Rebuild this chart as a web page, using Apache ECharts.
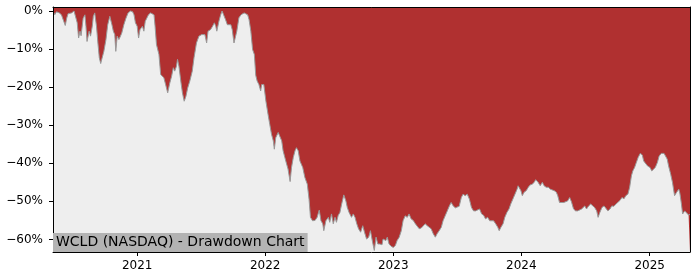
<!DOCTYPE html>
<html>
<head>
<meta charset="utf-8">
<script src="https://cdn.jsdelivr.net/npm/echarts@6/dist/echarts.min.js"></script>
<style>html,body{margin:0;padding:0;background:#fff}#c{width:700px;height:280px}</style>
</head>
<body>
<div id="c"></div>
<script>
const chartTitle = 'WCLD (NASDAQ) - Drawdown Chart';
const xStart = '2020-05-06';
const xEnd = '2025-04-26';
const yMin = -63.3;
const yMax = 1.05;
const yTicks = [0, -10, -20, -30, -40, -50, -60];
const xTickYears = [2021, 2022, 2023, 2024, 2025];

const dates2020 = ['2020-05-06','2020-05-11','2020-05-16','2020-05-24','2020-05-30','2020-06-04','2020-06-10','2020-06-14','2020-06-18','2020-06-23','2020-06-28','2020-07-05','2020-07-10','2020-07-14','2020-07-18','2020-07-22','2020-07-25','2020-07-31','2020-08-05','2020-08-08','2020-08-11','2020-08-17','2020-08-21','2020-08-26','2020-08-29','2020-09-02','2020-09-07','2020-09-11','2020-09-15','2020-09-19','2020-09-22','2020-09-28','2020-10-04','2020-10-09','2020-10-15','2020-10-21','2020-10-25','2020-10-29','2020-11-01','2020-11-05','2020-11-10','2020-11-15','2020-11-18','2020-11-24','2020-11-30','2020-12-06','2020-12-13','2020-12-19','2020-12-23','2020-12-27'];
const dd2020 = [0,-1.0,-0.2,-0.5,-1.0,-1.4,-3.8,-1.9,-0.7,-1.0,-0.5,0,-0.2,-3.1,-7.1,-5.3,-6.5,-1.9,-1.0,-4.0,-8.0,-5.3,-6.6,-4.0,-1.4,-0.5,-4.0,-8.4,-12.3,-13.8,-12.7,-10.6,-7.5,-3.6,-1.4,-3.6,-5.3,-6.2,-10.6,-6.6,-7.5,-7.0,-5.8,-3.6,-1.9,-0.5,0,-0.2,-1.0,-3.1];

const dates2021 = ['2021-01-01','2021-01-05','2021-01-09','2021-01-12','2021-01-16','2021-01-20','2021-01-24','2021-01-28','2021-02-02','2021-02-08','2021-02-12','2021-02-18','2021-02-21','2021-02-25','2021-03-04','2021-03-09','2021-03-13','2021-03-18','2021-03-23','2021-03-29','2021-04-04','2021-04-09','2021-04-14','2021-04-18','2021-04-23','2021-04-26','2021-04-30','2021-05-06','2021-05-10','2021-05-15','2021-05-20','2021-05-25','2021-05-31','2021-06-07','2021-06-12','2021-06-19','2021-06-26','2021-07-04','2021-07-09','2021-07-13','2021-07-18','2021-07-22','2021-07-29','2021-08-04','2021-08-09','2021-08-13','2021-08-16','2021-08-22','2021-08-27','2021-08-31','2021-09-05','2021-09-10','2021-09-15','2021-09-19','2021-09-25','2021-09-29','2021-10-04','2021-10-09','2021-10-12','2021-10-18','2021-10-24','2021-10-27','2021-11-02','2021-11-07','2021-11-12','2021-11-16','2021-11-21','2021-11-26','2021-12-01','2021-12-05','2021-12-09','2021-12-14','2021-12-19','2021-12-22','2021-12-28'];
const dd2021 = [-4.0,-7.1,-4.9,-5.3,-4.0,-5.3,-2.7,-3.1,-1.0,-0.5,0,-1.0,-4.0,-8.8,-11.4,-16.7,-16.3,-17.5,-19.3,-21.5,-18.9,-17.2,-14.9,-15.8,-14.5,-12.7,-14.5,-18.9,-21.5,-23.7,-22.4,-20.2,-18.4,-15.8,-12.3,-8.4,-6.6,-6.2,-5.8,-6.2,-8.4,-5.3,-4.9,-4.0,-3.1,-4.0,-5.3,-2.7,-1.0,0,-0.5,-2.3,-3.6,-4.0,-3.6,-4.9,-8.4,-8.0,-5.3,-1.8,-1.0,-1.4,-0.5,-0.3,-1.0,-2.3,-5.3,-10.1,-11.4,-16.9,-18.4,-19.3,-21.0,-19.3,-19.3];

const dates2022 = ['2022-01-03','2022-01-09','2022-01-14','2022-01-19','2022-01-24','2022-01-27','2022-01-31','2022-02-07','2022-02-12','2022-02-17','2022-02-21','2022-02-26','2022-03-03','2022-03-07','2022-03-13','2022-03-17','2022-03-22','2022-03-27','2022-03-31','2022-04-05','2022-04-10','2022-04-18','2022-04-24','2022-05-01','2022-05-06','2022-05-10','2022-05-16','2022-05-23','2022-05-29','2022-06-04','2022-06-09','2022-06-14','2022-06-17','2022-06-23','2022-06-30','2022-07-04','2022-07-09','2022-07-14','2022-07-19','2022-07-23','2022-07-28','2022-08-02','2022-08-07','2022-08-13','2022-08-19','2022-08-23','2022-08-28','2022-09-04','2022-09-09','2022-09-14','2022-09-19','2022-09-24','2022-09-30','2022-10-06','2022-10-11','2022-10-17','2022-10-23','2022-10-28','2022-11-03','2022-11-08','2022-11-13','2022-11-18','2022-11-24','2022-11-30','2022-12-03','2022-12-11','2022-12-15','2022-12-20','2022-12-26'];
const dd2022 = [-23.7,-27.1,-29.8,-32.4,-34.1,-36.3,-33.3,-31.9,-31.5,-34.1,-36.7,-38.5,-40.2,-41.5,-44.8,-41.1,-38.5,-36.7,-35.9,-36.7,-39.4,-41.1,-43.7,-45.5,-49.5,-54.2,-55.1,-55.0,-54.2,-52.3,-55.1,-55.9,-57.7,-55.1,-54.2,-55.5,-53.3,-55.9,-54.2,-55.5,-53.7,-52.9,-50.7,-48.3,-49.9,-51.6,-52.9,-54.2,-53.3,-54.2,-55.9,-57.2,-58.1,-56.4,-58.1,-59.9,-59.4,-57.7,-60.7,-62.9,-59.4,-61.2,-61.2,-61.4,-59.9,-60.3,-59.4,-61.2,-61.8];

const dates2023 = ['2023-01-01','2023-01-07','2023-01-12','2023-01-18','2023-01-24','2023-01-29','2023-02-04','2023-02-10','2023-02-15','2023-02-21','2023-02-27','2023-03-05','2023-03-10','2023-03-16','2023-03-22','2023-03-27','2023-04-02','2023-04-08','2023-04-13','2023-04-19','2023-04-25','2023-05-01','2023-05-06','2023-05-12','2023-05-18','2023-05-23','2023-05-29','2023-06-04','2023-06-10','2023-06-15','2023-06-21','2023-06-27','2023-07-02','2023-07-08','2023-07-14','2023-07-19','2023-07-25','2023-07-31','2023-08-06','2023-08-12','2023-08-18','2023-08-24','2023-08-29','2023-09-04','2023-09-10','2023-09-16','2023-09-21','2023-09-27','2023-10-03','2023-10-08','2023-10-14','2023-10-20','2023-10-26','2023-10-30','2023-11-04','2023-11-10','2023-11-15','2023-11-21','2023-11-27','2023-12-02','2023-12-08','2023-12-14','2023-12-20','2023-12-23','2023-12-27','2023-12-31'];
const dd2023 = [-62.1,-61.6,-60.3,-59.4,-57.7,-55.1,-53.8,-54.2,-53.3,-54.6,-55.0,-55.9,-56.4,-57.2,-57.0,-57.2,-55.9,-56.4,-56.8,-57.2,-58.5,-59.4,-58.5,-57.7,-56.8,-55.1,-53.8,-52.5,-51.2,-50.3,-51.2,-51.7,-51.5,-51.3,-49.0,-48.1,-48.5,-48.1,-49.4,-51.6,-52.5,-52.5,-52.9,-52.0,-53.3,-53.7,-54.6,-54.2,-55.1,-54.6,-55.1,-55.9,-56.8,-57.7,-56.8,-55.9,-54.2,-52.9,-52.0,-50.7,-49.4,-48.1,-46.8,-45.9,-45.8,-47.2];

const dates2024 = ['2024-01-04','2024-01-09','2024-01-15','2024-01-21','2024-01-26','2024-02-01','2024-02-07','2024-02-11','2024-02-15','2024-02-18','2024-02-24','2024-03-01','2024-03-06','2024-03-12','2024-03-18','2024-03-24','2024-03-29','2024-04-04','2024-04-10','2024-04-14','2024-04-19','2024-04-25','2024-05-01','2024-05-06','2024-05-12','2024-05-18','2024-05-23','2024-05-29','2024-06-04','2024-06-10','2024-06-15','2024-06-21','2024-06-30','2024-07-05','2024-07-11','2024-07-17','2024-07-22','2024-07-28','2024-08-03','2024-08-07','2024-08-12','2024-08-18','2024-08-24','2024-08-29','2024-09-04','2024-09-10','2024-09-15','2024-09-21','2024-09-27','2024-10-02','2024-10-08','2024-10-14','2024-10-20','2024-10-25','2024-10-31','2024-11-05','2024-11-10','2024-11-14','2024-11-19','2024-11-24','2024-11-29','2024-12-05','2024-12-11','2024-12-15','2024-12-20','2024-12-26'];
const dd2024 = [-48.5,-47.6,-47.2,-46.3,-45.7,-45.5,-45.0,-44.3,-44.2,-45.0,-45.9,-45.0,-45.9,-46.3,-46.3,-46.8,-46.6,-47.2,-47.6,-48.5,-50.3,-50.3,-50.3,-50.1,-49.9,-49.0,-50.1,-52.0,-52.5,-52.5,-52.9,-52.0,-51.2,-52.0,-51.2,-50.7,-51.0,-51.6,-52.5,-54.2,-52.9,-51.6,-51.2,-51.6,-52.5,-52.0,-51.2,-51.3,-50.7,-50.4,-49.8,-49.0,-49.3,-48.5,-48.1,-46.3,-43.3,-42.0,-41.1,-39.8,-38.5,-37.4,-37.8,-39.4,-39.8,-40.7];

const dates2025 = ['2025-01-02','2025-01-07','2025-01-11','2025-01-17','2025-01-23','2025-01-28','2025-02-03','2025-02-11','2025-02-16','2025-02-20','2025-02-24','2025-03-02','2025-03-07','2025-03-13','2025-03-19','2025-03-25','2025-03-28','2025-04-01','2025-04-05','2025-04-11','2025-04-16','2025-04-22','2025-04-26'];
const dd2025 = [-41.1,-42.0,-42.4,-41.1,-39.8,-38.1,-37.4,-37.4,-37.6,-38.9,-40.7,-42.9,-45.0,-48.5,-47.6,-46.8,-47.8,-50.3,-53.3,-52.5,-52.9,-53.6,-53.4];

function toTime(s) {
  const p = s.split('-').map(Number);
  return new Date(p[0], p[1] - 1, p[2]).getTime();
}

const allDates = [].concat(dates2020, dates2021, dates2022, dates2023, dates2024, dates2025);
const allDD = [].concat(dd2020, dd2021, dd2022, dd2023, dd2024, dd2025);
const seriesData = allDates.map((d, i) => [toTime(d), allDD[i]]);

const yearTickValues = xTickYears.map(y => new Date(y, 0, 1).getTime());
const FONT = 'DejaVu Sans';
const spine = {show: true, onZero: false, lineStyle: {color: '#000', width: 1}};

const chart = echarts.init(document.getElementById('c'), null, {renderer: 'canvas'});
chart.setOption({
  animation: false,
  backgroundColor: '#ffffff',
  title: {
    text: chartTitle,
    left: 53,
    bottom: 28,
    backgroundColor: '#b3b3b3',
    padding: [2, 3, 2, 3],
    itemGap: 0,
    z: 10,
    textStyle: {fontFamily: FONT, fontSize: 14, fontWeight: 'normal', color: '#000', lineHeight: 15}
  },
  grid: {
    left: 53, right: 10, top: 7, bottom: 28,
    show: true,
    backgroundColor: '#b03030',
    borderWidth: 0,
    containLabel: false,
    outerBoundsMode: 'none'
  },
  xAxis: [{
    type: 'value',
    position: 'bottom',
    min: toTime(xStart),
    max: toTime(xEnd),
    z: 5,
    splitLine: {show: false},
    axisLine: spine,
    axisTick: {show: true, inside: false, length: 4, lineStyle: {color: '#000'}, customValues: yearTickValues},
    axisLabel: {
      customValues: yearTickValues,
      margin: 8,
      fontFamily: FONT, fontSize: 12, color: '#000',
      formatter: v => String(new Date(v).getFullYear())
    }
  }, {
    type: 'value',
    position: 'top',
    min: toTime(xStart),
    max: toTime(xEnd),
    z: 5,
    splitLine: {show: false},
    axisLine: spine,
    axisTick: {show: false},
    axisLabel: {show: false}
  }],
  yAxis: [{
    type: 'value',
    position: 'left',
    min: yMin,
    max: yMax,
    z: 5,
    splitLine: {show: false},
    axisLine: spine,
    axisTick: {show: true, inside: false, length: 4, lineStyle: {color: '#000'}, customValues: yTicks},
    axisLabel: {
      customValues: yTicks,
      margin: 10,
      fontFamily: FONT, fontSize: 12, color: '#000',
      formatter: v => (v < 0 ? '\u2212' + Math.abs(v) : String(v)) + '%'
    }
  }, {
    type: 'value',
    position: 'right',
    min: yMin,
    max: yMax,
    z: 5,
    splitLine: {show: false},
    axisLine: spine,
    axisTick: {show: false},
    axisLabel: {show: false}
  }],
  series: [{
    type: 'line',
    xAxisIndex: 0,
    yAxisIndex: 0,
    data: seriesData,
    showSymbol: false,
    symbol: 'none',
    lineStyle: {color: '#999999', width: 1},
    areaStyle: {color: '#eeeeee', opacity: 1, origin: 'start'},
    z: 2
  }]
});
</script>
</body>
</html>
